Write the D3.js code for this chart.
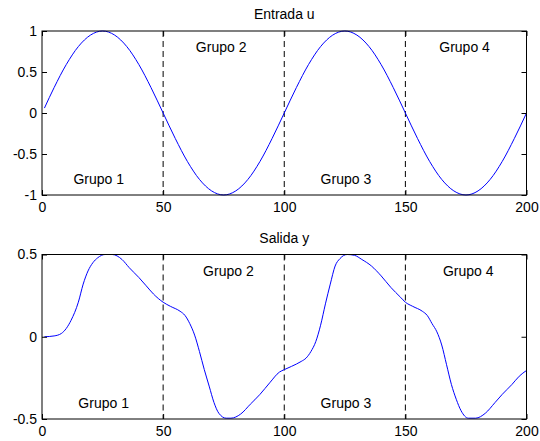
<!DOCTYPE html>
<html>
<head>
    <meta charset="utf-8">
    <script type="text/javascript" src="https://d3js.org/d3.v7.min.js"></script>
    <style>
        body { margin: 0; background: white; }
        svg text { font-family: Arial, "Liberation Sans", Helvetica, sans-serif; font-size: 14px; fill: black; }
    </style>
</head>
<body>
    <div id="chart"></div>
    <script type="text/javascript">
        // input u (every 5 samples)
        const uX = [1, 5, 10, 15, 20, 25, 30, 35, 40, 45, 50, 55, 60, 65, 70, 75, 80, 85, 90, 95, 100,
                    105, 110, 115, 120, 125, 130, 135, 140, 145, 150, 155, 160, 165, 170, 175, 180, 185, 190, 195, 200];
        const uY = [0.06, 0.31, 0.59, 0.81, 0.95, 1.0, 0.95, 0.81, 0.59, 0.31, 0.0, -0.31, -0.59, -0.81, -0.95, -1.0, -0.95, -0.81, -0.59, -0.31, 0.0,
                    0.31, 0.59, 0.81, 0.95, 1.0, 0.95, 0.81, 0.59, 0.31, 0.0, -0.31, -0.59, -0.81, -0.95, -1.0, -0.95, -0.81, -0.59, -0.31, 0.0];

        // output y
        const yX = [1, 5, 8, 10, 12, 15, 17, 19, 21, 23, 26, 29, 33, 36, 40, 43, 46, 50,
                    53, 57, 59, 61, 63, 65, 67, 69, 71, 73, 76, 78, 82, 86, 90, 94, 98, 100,
                    103, 107, 109, 111, 113, 115, 117, 119, 121, 123, 126, 129, 132, 136, 140, 144, 148, 150,
                    153, 157, 159, 161, 163, 165, 167, 169, 171, 173, 176, 179, 183, 187, 190, 194, 197, 200];
        const yY = [0.0, 0.005, 0.02, 0.05, 0.10, 0.21, 0.32, 0.40, 0.45, 0.48, 0.50, 0.50, 0.47, 0.42, 0.36, 0.31, 0.26, 0.21,
                    0.185, 0.155, 0.13, 0.08, 0.01, -0.09, -0.20, -0.30, -0.40, -0.465, -0.495, -0.495, -0.47, -0.41, -0.35, -0.28, -0.215, -0.20,
                    -0.18, -0.15, -0.13, -0.09, -0.03, 0.07, 0.20, 0.32, 0.43, 0.475, 0.50, 0.495, 0.47, 0.43, 0.37, 0.30, 0.24, 0.21,
                    0.185, 0.155, 0.13, 0.08, 0.03, -0.05, -0.17, -0.29, -0.38, -0.45, -0.495, -0.495, -0.465, -0.40, -0.35, -0.29, -0.24, -0.205];

        const groupLines = [50, 100, 150];
        const groupNames = ["Grupo 1", "Grupo 2", "Grupo 3", "Grupo 4"];
        const xTicks = [0, 50, 100, 150, 200];

        const plots = [
            {title: "Entrada u", xs: uX, ys: uY, ydom: [-1, 1], yTicks: [-1, -0.5, 0, 0.5, 1],
             top: 31, bottom: 195, labelX: [13, 63.5, 115, 164], labelY: [-0.8, 0.8, -0.8, 0.8]},
            {title: "Salida y", xs: yX, ys: yY, ydom: [-0.5, 0.5], yTicks: [-0.5, 0, 0.5],
             top: 254.5, bottom: 419, labelX: [15, 66.5, 115, 165.5], labelY: [-0.4, 0.4, -0.4, 0.4]}
        ];

        const left = 42, right = 526.5;

        const svg = d3.select("#chart")
            .append("svg")
            .attr("width", 540)
            .attr("height", 441)
            .style("background-color", "white");

        plots.forEach(p => {
            const x = d3.scaleLinear().domain([0, 200]).range([left, right]);
            const y = d3.scaleLinear().domain(p.ydom).range([p.bottom, p.top]);
            const g = svg.append("g");

            // dashed group separators
            g.selectAll("line.sep")
                .data(groupLines)
                .enter()
                .append("line")
                .attr("class", "sep")
                .attr("x1", d => x(d)).attr("x2", d => x(d))
                .attr("y1", p.top).attr("y2", p.bottom)
                .style("stroke", "black")
                .style("stroke-width", 1)
                .style("stroke-dasharray", "6,4");

            // signal
            const line = d3.line()
                .x((d, i) => x(p.xs[i]))
                .y(d => y(d))
                .curve(d3.curveMonotoneX);
            g.append("path")
                .attr("d", line(p.ys))
                .style("fill", "none")
                .style("stroke", "rgb(0,0,255)")
                .style("stroke-width", 1);

            // group labels
            g.selectAll("text.grp")
                .data(groupNames)
                .enter()
                .append("text")
                .attr("class", "grp")
                .attr("x", (d, i) => x(p.labelX[i]))
                .attr("y", (d, i) => y(p.labelY[i]))
                .attr("dy", "0.36em")
                .text(d => d);

            // axes, ticks pointing inward
            const fmt = d => String(d);
            g.append("g")
                .attr("transform", `translate(0,${p.bottom})`)
                .call(d3.axisBottom(x).tickValues(xTicks).tickSize(-5).tickPadding(7).tickFormat(fmt));
            g.append("g")
                .attr("transform", `translate(0,${p.top})`)
                .call(d3.axisTop(x).tickValues(xTicks).tickSize(-5).tickFormat(""));
            g.append("g")
                .attr("transform", `translate(${left},0)`)
                .call(d3.axisLeft(y).tickValues(p.yTicks).tickSize(-5).tickPadding(5).tickFormat(fmt));
            g.append("g")
                .attr("transform", `translate(${right},0)`)
                .call(d3.axisRight(y).tickValues(p.yTicks).tickSize(-5).tickFormat(""));

            g.selectAll(".domain").remove();
            g.selectAll(".tick line").style("stroke", "black");
            g.selectAll(".tick text")
                .style("font-family", "Arial, 'Liberation Sans', Helvetica, sans-serif")
                .style("font-size", "14px")
                .style("fill", "black");

            // box
            g.append("rect")
                .attr("x", left).attr("y", p.top)
                .attr("width", right - left).attr("height", p.bottom - p.top)
                .style("fill", "none")
                .style("stroke", "black")
                .style("stroke-width", 1);

            // title
            g.append("text")
                .attr("x", (left + right) / 2)
                .attr("y", p.top - 12)
                .attr("text-anchor", "middle")
                .text(p.title);
        });
    </script>
</body>
</html>
